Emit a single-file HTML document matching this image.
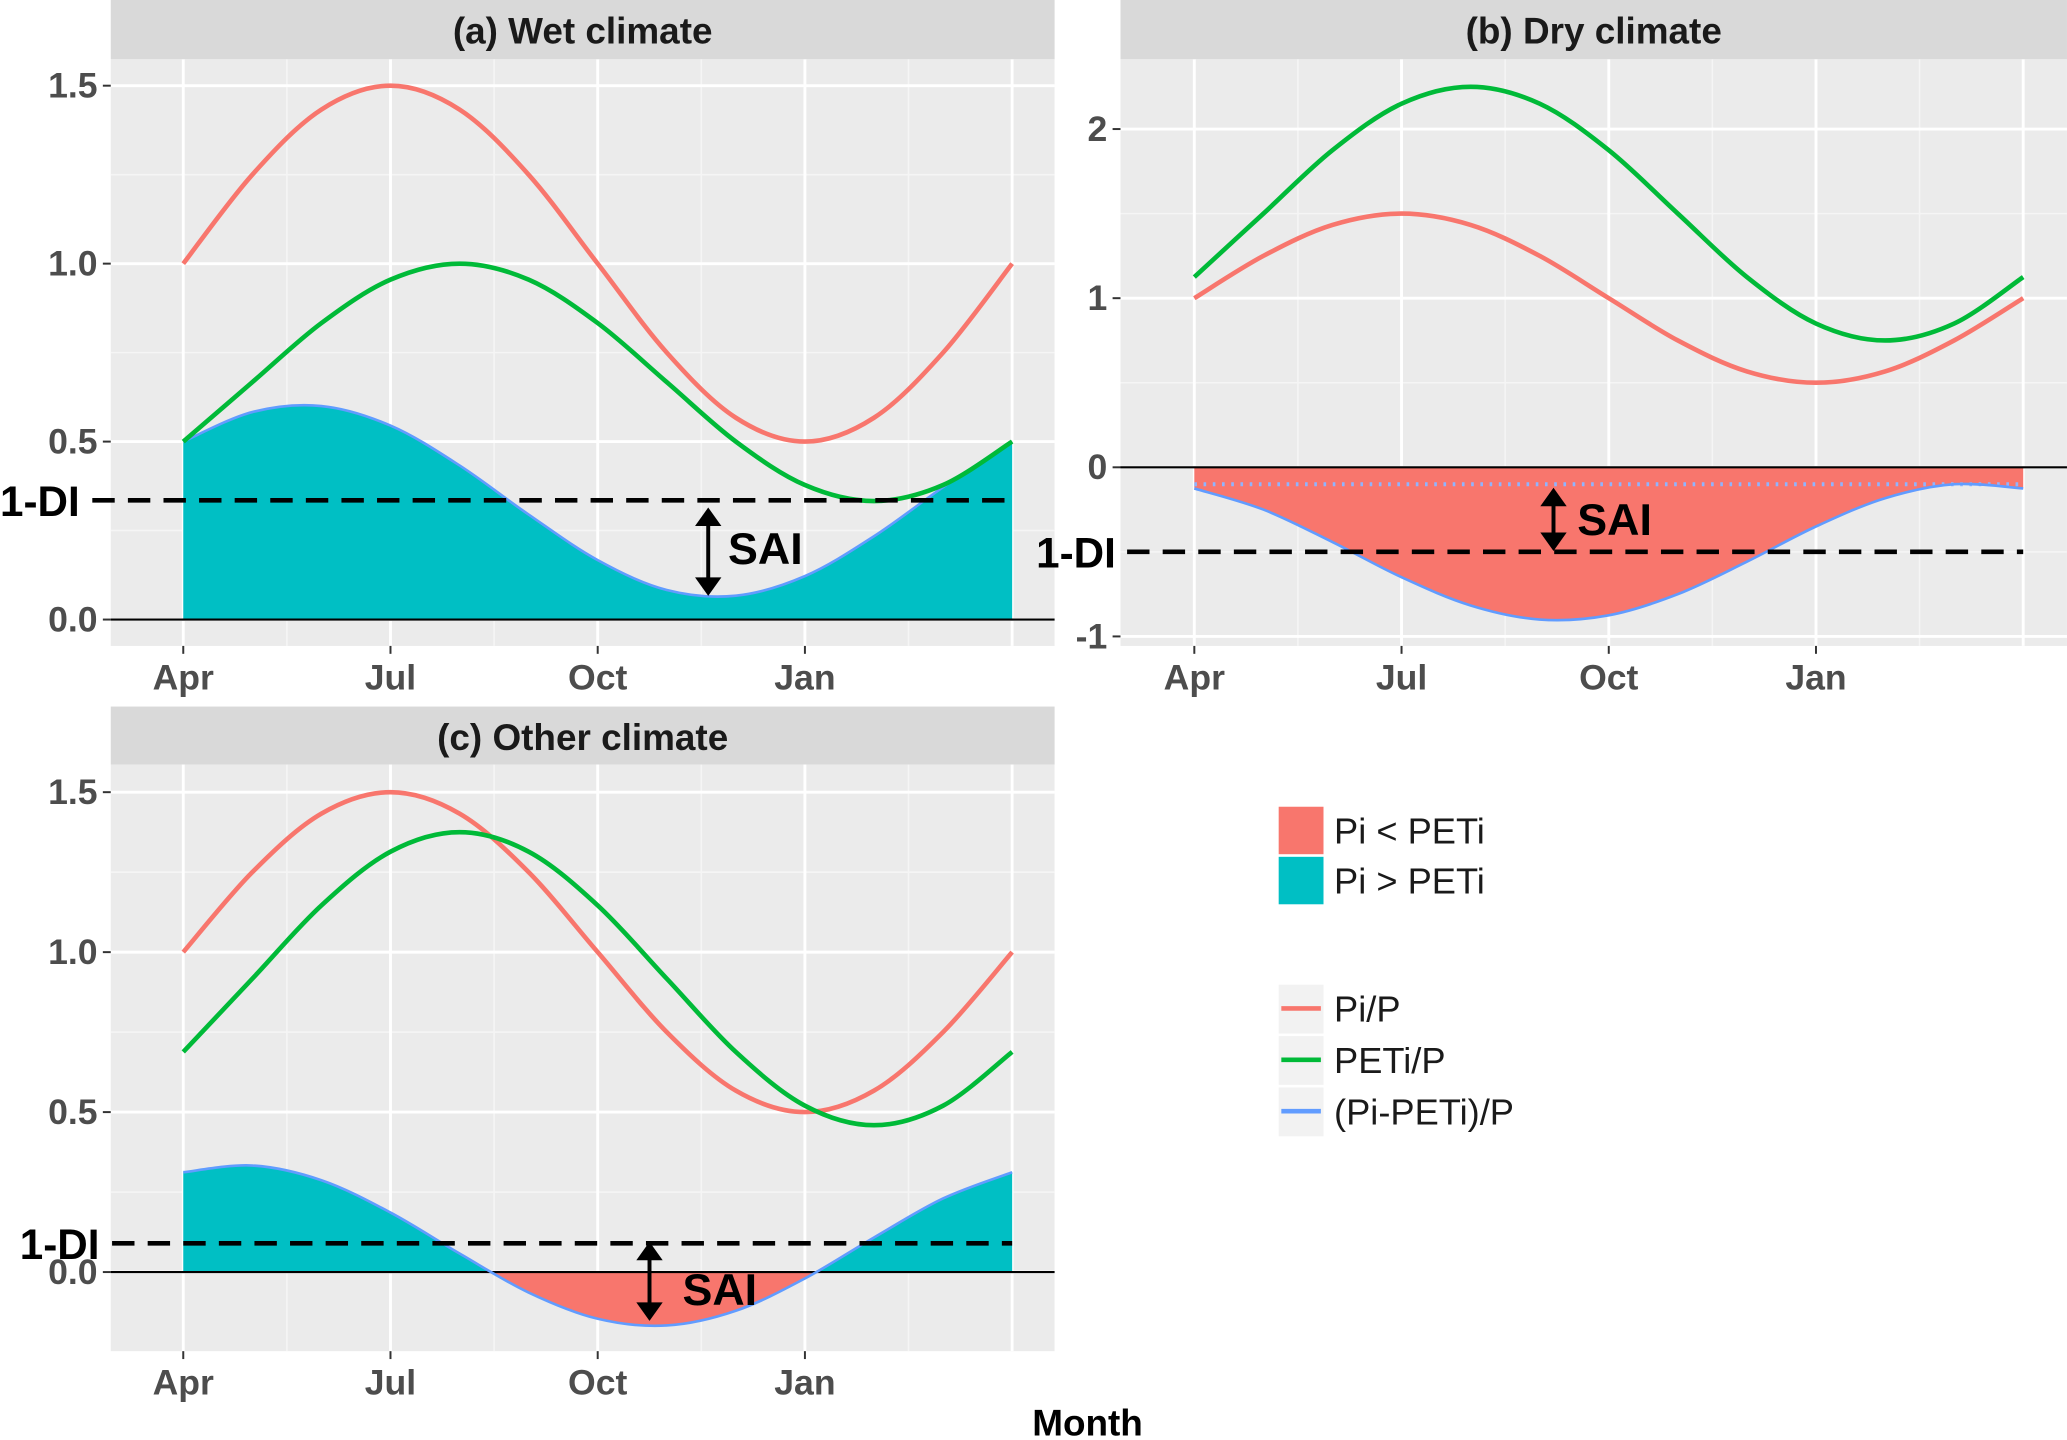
<!DOCTYPE html>
<html><head><meta charset="utf-8">
<style>
html,body{margin:0;padding:0;background:#fff;}
svg{display:block;font-family:"Liberation Sans",Arial,sans-serif;}
</style></head>
<body>
<svg id="chart" width="2067" height="1440" viewBox="0 0 1568 1092.4" xmlns="http://www.w3.org/2000/svg"></svg>
<script>
// Month index 0..12 = Apr .. next Apr
const months = [0,1,2,3,4,5,6,7,8,9,10,11,12];
const monthTickLabels = ["Apr","Jul","Oct","Jan"];
const monthTickPos = [0,3,6,9];
const piP = [1,1.25,1.433,1.5,1.433,1.25,1,0.75,0.567,0.5,0.567,0.75,1];
const petA = [0.5,0.667,0.833,0.955,1.0,0.955,0.833,0.667,0.5,0.378,0.333,0.378,0.5];
const diffA = [0.5,0.583,0.6,0.545,0.433,0.295,0.167,0.083,0.067,0.122,0.234,0.372,0.5];
const petB = [1.125,1.5,1.875,2.15,2.25,2.15,1.875,1.5,1.125,0.85,0.75,0.85,1.125];
const diffB = [-0.125,-0.25,-0.442,-0.65,-0.817,-0.9,-0.875,-0.75,-0.558,-0.35,-0.183,-0.1,-0.125];
const petC = [0.688,0.917,1.146,1.314,1.375,1.314,1.146,0.917,0.688,0.52,0.459,0.52,0.688];
const diffC = [0.312,0.333,0.287,0.186,0.058,-0.064,-0.146,-0.167,-0.121,-0.02,0.108,0.23,0.312];
const yTicksA = [0,0.5,1.0,1.5];
const yTickLabelsA = ["0.0","0.5","1.0","1.5"];
const yTicksB = [-1,0,1,2];
const yTickLabelsB = ["-1","0","1","2"];
const yTicksC = [0,0.5,1.0,1.5];
const yTickLabelsC = ["0.0","0.5","1.0","1.5"];
const diA = 0.335, diB = -0.5, diC = 0.09;
const saiMonthA = 7.6, saiMonthB = 5.2, saiMonthC = 6.75;

const NS="http://www.w3.org/2000/svg";
const svg=document.getElementById('chart');
function mk(tag,attrs,parent){const e=document.createElementNS(NS,tag);for(const k in attrs)e.setAttribute(k,attrs[k]);(parent||svg).appendChild(e);return e;}
const SAL="#F8766D",GRN="#00BA38",TEAL="#00BFC4",BLUE="#619CFF";

function smooth(pts){
  let d="M"+pts[0][0]+","+pts[0][1];
  for(let i=0;i<pts.length-1;i++){
    const p0=pts[Math.max(0,i-1)],p1=pts[i],p2=pts[i+1],p3=pts[Math.min(pts.length-1,i+2)];
    const c1=[p1[0]+(p2[0]-p0[0])/6,p1[1]+(p2[1]-p0[1])/6];
    const c2=[p2[0]-(p3[0]-p1[0])/6,p2[1]-(p3[1]-p1[1])/6];
    d+=" C"+c1[0]+","+c1[1]+" "+c2[0]+","+c2[1]+" "+p2[0]+","+p2[1];
  }
  return d;
}

let clipId=0;
function panel(cfg){
  const g=mk('g',{});
  
  
  const {x0,x1,y0,y1,sy0,title}=cfg;
  const xs=m=>cfg.xApr+m*cfg.xStep;
  const ys=v=>cfg.yZero-v*cfg.yUnit;
  const strip=mk('rect',{x:x0,y:sy0,width:x1-x0,height:y0-sy0,fill:"#D9D9D9"},g);
  
  const tt=mk('text',{x:(x0+x1)/2,y:sy0+33,'text-anchor':'middle','font-size':28,'font-weight':'bold',fill:'#1a1a1a'},g);
  tt.textContent=title;
  const bg=mk('rect',{x:x0,y:y0,width:x1-x0,height:y1-y0,fill:"#EBEBEB"},g);
  
  for(let i=0;i<cfg.yTicks.length-1;i++){const v=(cfg.yTicks[i]+cfg.yTicks[i+1])/2;mk('line',{x1:x0,x2:x1,y1:ys(v),y2:ys(v),stroke:"#F5F5F5","stroke-width":1.2},g);}
  for(let m=-1.5;m<=13.5;m+=3){const x=xs(m);if(x>x0&&x<x1)mk('line',{x1:x,x2:x,y1:y0,y2:y1,stroke:"#F5F5F5","stroke-width":1.2},g);}
  cfg.yTicks.forEach((v,i)=>{
    mk('line',{x1:x0,x2:x1,y1:ys(v),y2:ys(v),stroke:"#fff","stroke-width":2.2},g);
    mk('line',{x1:x0-6,x2:x0,y1:ys(v),y2:ys(v),stroke:"#333","stroke-width":1.5},g);
    const t=mk('text',{x:x0-10,y:ys(v)+9,'text-anchor':'end','font-size':27,'font-weight':'bold',fill:'#4D4D4D'},g);
    t.textContent=cfg.yLabels[i];
  });
  [0,3,6,9,12].forEach(m=>mk('line',{x1:xs(m),x2:xs(m),y1:y0,y2:y1,stroke:"#fff","stroke-width":2.2},g));
  monthTickPos.forEach((m,i)=>{
    mk('line',{x1:xs(m),x2:xs(m),y1:y1,y2:y1+6,stroke:"#333","stroke-width":1.5},g);
    const t=mk('text',{x:xs(m),y:y1+33,'text-anchor':'middle','font-size':27,'font-weight':'bold',fill:'#4D4D4D'},g);
    t.textContent=monthTickLabels[i];
  });
  const dpts=months.map((m,i)=>[xs(m),ys(cfg.diff[i])]);
  const z=ys(0);
  const areaD=smooth(dpts)+" L"+xs(12)+","+z+" L"+xs(0)+","+z+" Z";
  const idA="c"+(clipId++),idB="c"+(clipId++);
  const defs=mk('defs',{},g);
  const cpA=mk('clipPath',{id:idA},defs);mk('rect',{x:x0,y:y0-50,width:x1-x0,height:z-y0+50},cpA);
  const cpB=mk('clipPath',{id:idB},defs);mk('rect',{x:x0,y:z,width:x1-x0,height:y1-z+50},cpB);
  const ap=mk('path',{d:areaD,fill:TEAL,'clip-path':'url(#'+idA+')'},g);
  
  const an=mk('path',{d:areaD,fill:SAL,'clip-path':'url(#'+idB+')'},g);
  
  const zl=mk('line',{x1:x0,x2:x1,y1:z,y2:z,stroke:"#000","stroke-width":1.6},g);
  
  if(cfg.dotted!==undefined){const dl=mk('line',{x1:xs(0),x2:xs(12),y1:ys(cfg.dotted),y2:ys(cfg.dotted),stroke:"#8FB4FF","stroke-width":3,"stroke-dasharray":"2 5"},g);}
  const dp=mk('path',{d:smooth(dpts),fill:'none',stroke:BLUE,'stroke-width':2},g);
  
  const pp=mk('path',{d:smooth(months.map((m,i)=>[xs(m),ys(piP[i])])),fill:'none',stroke:SAL,'stroke-width':3.5},g);
  
  const pe=mk('path',{d:smooth(months.map((m,i)=>[xs(m),ys(cfg.pet[i])])),fill:'none',stroke:GRN,'stroke-width':3.5},g);
  
  const dy=ys(cfg.di);
  const dl=mk('line',{x1:cfg.diX1,x2:xs(12),y1:dy,y2:dy,stroke:"#000","stroke-width":3.5,"stroke-dasharray":"17 10"},g);
  
  const dt=mk('text',{x:cfg.diLabelX,y:dy+12,'font-size':32,'font-weight':'bold',fill:'#000'},g);
  dt.textContent="1-DI";
  const ax=xs(cfg.saiM);const ya=cfg.arrowTop,yb=cfg.arrowBot;
  const ar=mk('g',{},g);
  mk('line',{x1:ax,x2:ax,y1:ya+8,y2:yb-8,stroke:'#000','stroke-width':3},ar);
  mk('path',{d:`M${ax-10},${ya+14} L${ax},${ya} L${ax+10},${ya+14} Z`,fill:'#000'},ar);
  mk('path',{d:`M${ax-10},${yb-14} L${ax},${yb} L${ax+10},${yb-14} Z`,fill:'#000'},ar);
  const st=mk('text',{x:ax+cfg.saiDx,y:cfg.saiY,'font-size':34,'font-weight':'bold',fill:'#000'},g);
  st.textContent="SAI";
}

panel({name:'panel-wet',title:'(a) Wet climate',x0:84,x1:800,sy0:0,y0:45,y1:490,xApr:139,xStep:52.4,yZero:470,yUnit:270,
  yTicks:yTicksA,yLabels:yTickLabelsA,pet:petA,diff:diffA,di:diA,diX1:70,diLabelX:0,saiM:saiMonthA,arrowTop:385,arrowBot:452,saiY:428,saiDx:15});
panel({name:'panel-dry',title:'(b) Dry climate',x0:850,x1:1568,sy0:0,y0:45,y1:490,xApr:906,xStep:52.4,yZero:354.5,yUnit:128.3,
  yTicks:yTicksB,yLabels:yTickLabelsB,pet:petB,diff:diffB,di:diB,diX1:855,diLabelX:786,saiM:saiMonthB,arrowTop:370,arrowBot:418,saiY:406,dotted:-0.1,saiDx:18});
panel({name:'panel-other',title:'(c) Other climate',x0:84,x1:800,sy0:536,y0:580,y1:1025,xApr:139,xStep:52.4,yZero:965,yUnit:242.7,
  yTicks:yTicksC,yLabels:yTickLabelsC,pet:petC,diff:diffC,di:diC,diX1:85,diLabelX:15,saiM:saiMonthC,arrowTop:942,arrowBot:1002,saiY:990,saiDx:25});

const lg=mk('g',{});
[[SAL,"Pi < PETi",612],[TEAL,"Pi > PETi",650]].forEach(([c,l,y])=>{
  const r=mk('rect',{x:970,y:y,width:34,height:36,fill:c},lg);
  
  const t=mk('text',{x:1012,y:y+28,'font-size':27.5,fill:'#1a1a1a'},lg);
  t.textContent=l;
});
[[SAL,"Pi/P",747],[GRN,"PETi/P",786],[BLUE,"(Pi-PETi)/P",825]].forEach(([c,l,y])=>{
  const r=mk('rect',{x:970,y:y,width:34,height:37,fill:'#F2F2F2'},lg);
  
  mk('line',{x1:972,x2:1002,y1:y+18,y2:y+18,stroke:c,'stroke-width':3.5},lg);
  const t=mk('text',{x:1012,y:y+28,'font-size':27.5,fill:'#1a1a1a'},lg);
  t.textContent=l;
});
const mt=mk('text',{x:825,y:1089,'text-anchor':'middle','font-size':28,'font-weight':'bold',fill:'#000'});
mt.textContent="Month";
</script>
</body></html>
